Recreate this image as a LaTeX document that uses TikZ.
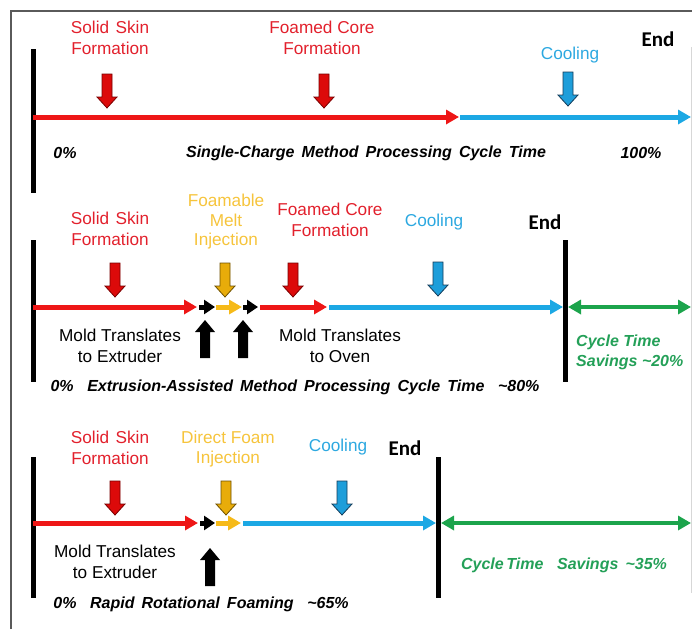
\documentclass[tikz,border=0pt]{standalone}
\usepackage{fontspec}
\setmainfont{Liberation Sans}
\newfontfamily\endfont{Carlito}
\usetikzlibrary{arrows.meta}

\definecolor{axred}{RGB}{238,22,22}
\definecolor{axblue}{RGB}{28,168,228}
\definecolor{axyellow}{RGB}{246,186,24}
\definecolor{axgreen}{RGB}{28,164,76}
\definecolor{txred}{RGB}{226,32,44}
\definecolor{txyellow}{RGB}{246,196,60}
\definecolor{txblue}{RGB}{44,168,224}
\definecolor{txgreen}{RGB}{36,160,88}
\definecolor{framegray}{RGB}{90,90,90}
\definecolor{edgegray}{RGB}{215,215,215}
\definecolor{bred}{RGB}{220,10,10}
\definecolor{bredline}{RGB}{120,0,0}
\definecolor{byellow}{RGB}{232,172,10}
\definecolor{byellowline}{RGB}{110,80,0}
\definecolor{bblue}{RGB}{30,158,218}
\definecolor{bblueline}{RGB}{20,60,90}

\tikzset{
  lbl/.style={font=\fontsize{17.2}{20.5}\selectfont, align=center, inner sep=0pt},
  redlbl/.style={lbl, text=txred},
  yellowlbl/.style={lbl, text=txyellow},
  bluelbl/.style={lbl, text=txblue},
  blacklbl/.style={lbl, text=black},
  endlbl/.style={font=\endfont\bfseries\fontsize{21}{21}\selectfont, inner sep=0pt},
  caption/.style={font=\bfseries\itshape\fontsize{16}{20}\selectfont, inner sep=0pt},
  savings/.style={caption, text=txgreen, align=left},
  axis/.style={line width=5pt, -{Triangle[length=13pt,width=14pt]}},
  stub/.style={line width=5pt, black, -{Triangle[length=11pt,width=14pt]}},
  span/.style={line width=4.5pt, axgreen, {Triangle[length=13pt,width=14pt]}-{Triangle[length=13pt,width=14pt]}},
  bar/.style={line width=5pt, black},
  redblk/.style={fill=bred, draw=bredline, line width=0.8pt},
  yellowblk/.style={fill=byellow, draw=byellowline, line width=0.8pt},
  blueblk/.style={fill=bblue, draw=bblueline, line width=0.8pt},
  upblk/.style={fill=black},
  blockdown/.pic={\path[pic actions] (-5,-17) -- (-5,6) -- (-10,6) -- (0,17) -- (10,6) -- (5,6) -- (5,-17) -- cycle;},
  blockup/.pic={\path[pic actions] (-5,19) -- (-5,-7) -- (-10,-7) -- (0,-19) -- (10,-7) -- (5,-7) -- (5,19) -- cycle;}
}

\newcommand{\sep}{\hspace{0.85em}}
\newcommand{\tld}{\textasciitilde}

\begin{document}
\begin{tikzpicture}[x=1pt,y=-1pt]
\useasboundingbox (0,0) rectangle (692,629);

% outer frame
\draw[framegray, line width=1.5pt] (11,629) -- (11,11) -- (692,11);
\draw[edgegray, line width=1pt] (691,47) -- (691,593);

% ---------------- single-charge method ----------------
\coordinate (a0) at (33,117);
\coordinate (a1) at (459,117);
\coordinate (a2) at (460,117);
\coordinate (a3) at (691,117);
\coordinate (abt) at (33,49);
\coordinate (abb) at (33,193);
\draw[bar] (abt) -- (abb);
\draw[axis, axred] (a0) -- (a1);
\draw[axis, axblue] (a2) -- (a3);

\pic[redblk] at (107,91) {blockdown};
\pic[redblk] at (324,91) {blockdown};
\pic[blueblk] at (568,89) {blockdown};

\node[redlbl] (ss1) at (110,38) {Solid\hspace{0.1em} Skin\\Formation};
\node[redlbl] (fc1) at (322,38) {Foamed Core\\Formation};
\node[bluelbl] (co1) at (570,55) {Cooling};
\node[endlbl] (en1) at (658,39) {End};
\node[caption] (p01) at (65,153) {0\%};
\node[caption] (cap1) at (366,153) {Single-Charge\, Method\, Processing\, Cycle\, Time};
\node[caption] (p1) at (641,153) {100\%};

% ---------------- extrusion-assisted method ----------------
\coordinate (b0) at (33,307);
\coordinate (b1) at (197,307);
\coordinate (b2) at (199,307);
\coordinate (b3) at (215,307);
\coordinate (b4) at (216,307);
\coordinate (b5) at (242,307);
\coordinate (b6) at (243,307);
\coordinate (b7) at (258,307);
\coordinate (b8) at (260,307);
\coordinate (b9) at (327,307);
\coordinate (b10) at (329,307);
\coordinate (b11) at (563,307);
\coordinate (b12) at (568,307);
\coordinate (b13) at (691,307);
\coordinate (bbt) at (33,240);
\coordinate (bbb) at (33,382);
\coordinate (bet) at (565,240);
\coordinate (beb) at (565,382);
\draw[bar] (bbt) -- (bbb);
\draw[bar] (bet) -- (beb);
\draw[axis, axred] (b0) -- (b1);
\draw[stub] (b2) -- (b3);
\draw[axis, axyellow] (b4) -- (b5);
\draw[stub] (b6) -- (b7);
\draw[axis, axred] (b8) -- (b9);
\draw[axis, axblue] (b10) -- (b11);
\draw[span] (b12) -- (b13);

\pic[redblk] at (115,280) {blockdown};
\pic[yellowblk] at (225,280) {blockdown};
\pic[redblk] at (293,280) {blockdown};
\pic[blueblk] at (438,279) {blockdown};
\pic[upblk] at (205,339) {blockup};
\pic[upblk] at (243,339) {blockup};

\node[redlbl] (ss2) at (110,229) {Solid\hspace{0.1em} Skin\\Formation};
\node[yellowlbl, font=\fontsize{17.2}{19.5}\selectfont] (fm2) at (226,222) {Foamable\\Melt\\Injection};
\node[redlbl] (fc2) at (330,220) {Foamed Core\\Formation};
\node[bluelbl] (co2) at (434,222) {Cooling};
\node[endlbl] (en2) at (545,222) {End};
\node[blacklbl] (mt2) at (120,346) {Mold Translates\\to Extruder};
\node[blacklbl] (mo2) at (340,346) {Mold Translates\\to Oven};
\node[caption] (cap2) at (295,387) {0\%\sep Extrusion-Assisted\, Method\, Processing\, Cycle\, Time\sep \tld80\%};
\node[savings, anchor=west] (sv2) at (576,352) {Cycle Time\\Savings \tld20\%};

% ---------------- rapid rotational foaming ----------------
\coordinate (c0) at (33,523);
\coordinate (c1) at (198,523);
\coordinate (c2) at (200,523);
\coordinate (c3) at (215,523);
\coordinate (c4) at (216,523);
\coordinate (c5) at (241,523);
\coordinate (c6) at (243,523);
\coordinate (c7) at (436,523);
\coordinate (c8) at (441,523);
\coordinate (c9) at (691,523);
\coordinate (cbt) at (33,457);
\coordinate (cbb) at (33,598);
\coordinate (cet) at (438,457);
\coordinate (ceb) at (438,598);
\draw[bar] (cbt) -- (cbb);
\draw[bar] (cet) -- (ceb);
\draw[axis, axred] (c0) -- (c1);
\draw[stub] (c2) -- (c3);
\draw[axis, axyellow] (c4) -- (c5);
\draw[axis, axblue] (c6) -- (c7);
\draw[span] (c8) -- (c9);

\pic[redblk] at (115,498) {blockdown};
\pic[yellowblk] at (226,498) {blockdown};
\pic[blueblk] at (342,498) {blockdown};
\pic[upblk] at (210,567) {blockup};

\node[redlbl] (ss3) at (110,448) {Solid\hspace{0.1em} Skin\\Formation};
\node[yellowlbl] (df3) at (228,449) {Direct Foam\\Injection};
\node[bluelbl] (co3) at (338,447) {Cooling};
\node[endlbl] (en3) at (405,448) {End};
\node[blacklbl] (mt3) at (115,562) {Mold Translates\\to Extruder};
\node[caption] (cap3) at (201,604) {0\%\sep Rapid\, Rotational\, Foaming\sep \tld65\%};
\node[caption, text=txgreen] (sv3) at (564,565) {Cycle\,Time\sep Savings\, \tld35\%};
\end{tikzpicture}
\end{document}
